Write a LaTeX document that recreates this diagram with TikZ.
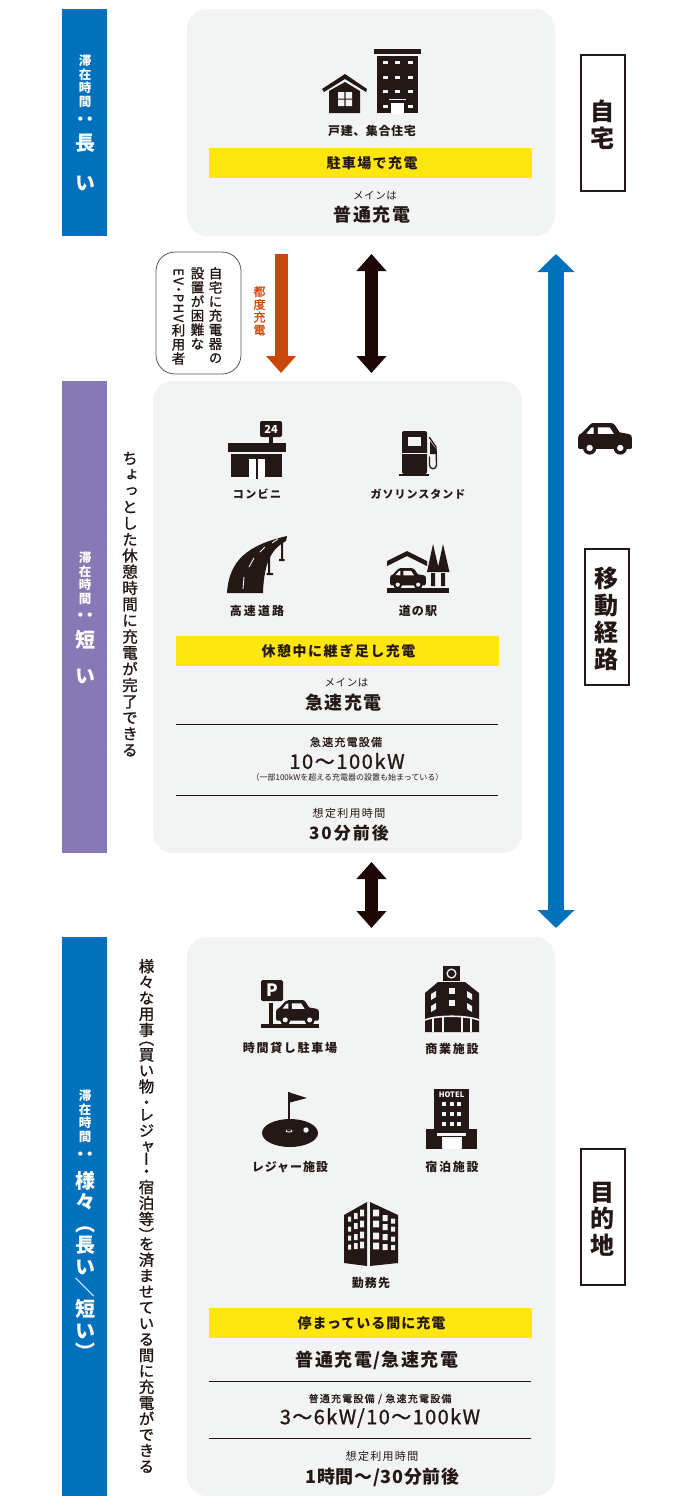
\documentclass[tikz,border=0pt]{standalone}
\usepackage{fontspec}
\usepackage{graphicx}
\usetikzlibrary{arrows.meta}
\newfontfamily\jp{Noto Sans CJK JP}
\newfontfamily\jpm[FakeBold=1.1]{Noto Sans CJK JP}
\newfontfamily\jpv[RawFeature={+vert}]{Noto Sans CJK JP}
\newfontfamily\jpvm[RawFeature={+vert},FakeBold=1.1]{Noto Sans CJK JP}
\definecolor{ink}{HTML}{231815}
\definecolor{barblue}{HTML}{0071BC}
\definecolor{barpurple}{HTML}{8779B6}
\definecolor{panelbg}{HTML}{F2F4F3}
\definecolor{ybar}{HTML}{FFE60F}
\definecolor{orng}{HTML}{C9470A}
\definecolor{darkarrow}{HTML}{1E0505}
\definecolor{rboxline}{HTML}{595757}
\makeatletter
\newcommand\Sh{}
\def\ShTok{\Sh}
% size, pitch, chars
\newcommand\vstk[3]{\vbox{\offinterlineskip\fontsize{#1}{#1}\selectfont
  \@tfor\vx:=#3\do{\ifx\vx\ShTok\vskip-3.5pt\else
    \vbox to #2pt{\vss\hbox to 1em{\vrule height .88em depth .12em width 0pt\hss\vx\hss}\vss}\fi}}}
\makeatother
\newcommand\Tb[3]{{\jp\bfseries\fontsize{#1}{#1}\selectfont\addfontfeatures{LetterSpace=#2}#3}}
\newcommand\Tr[3]{{\jp\fontsize{#1}{#1}\selectfont\addfontfeatures{LetterSpace=#2}#3}}
\newcommand\Tm[3]{{\jpm\fontsize{#1}{#1}\selectfont\addfontfeatures{LetterSpace=#2}#3}}
\newcommand\carshape[4]{% x,y,scale,bg
\begin{scope}[shift={(#1,#2)},x=#3pt,y=-#3pt]
 \fill[ink] (0,45) .. controls (0,36) and (5,32) .. (12,30) -- (36,5) .. controls (39,1) and (43,0) .. (48,0) -- (98,0) .. controls (104,0) and (108,2) .. (112,8) -- (125,28) -- (152,33) .. controls (158,34) and (162,38) .. (162,45) -- (162,72) .. controls (162,76) and (160,78) .. (156,78) -- (6,78) .. controls (2,78) and (0,76) .. (0,72) -- cycle;
 \fill[ink] (35,75) circle (20) (127,75) circle (20);
 \fill[#4] (35,75) circle (9.5) (127,75) circle (9.5);
 \fill[#4] (25,32) -- (40,14) -- (47,13) -- (47,33) -- cycle (60,13) -- (95,13) -- (108,33) -- (60,33) -- cycle;
\end{scope}}
\tikzset{
 txt/.style={inner sep=0pt,text=ink},
 wtxt/.style={inner sep=0pt,text=white,anchor=north},
 vtxt/.style={inner sep=0pt,text=ink,anchor=north},
 panel/.style={fill=panelbg,rounded corners=20pt,inner sep=0pt,draw=none},
 bar/.style={inner sep=0pt,draw=none,minimum width=45pt},
 ybox/.style={fill=ybar,inner sep=0pt,minimum width=323pt,minimum height=30pt,draw=none},
 rbox/.style={draw=ink,line width=2pt,fill=white,inner sep=0pt,minimum width=44pt,minimum height=136pt},
 sep/.style={draw=ink,line width=1pt},
 blk/.style={line width=13.5pt,draw=darkarrow,{Triangle[length=17pt,width=29pt,fill=darkarrow]}-{Triangle[length=17pt,width=29pt,fill=darkarrow]}},
}
\begin{document}
\begin{tikzpicture}[x=1pt,y=-1pt]
\useasboundingbox (0,0) rectangle (690,1505);
\fill[white] (0,0) rectangle (690,1505);
% bars
\node[bar,fill=barblue,minimum height=227pt] (bar1) at (84.5,122.5) {};
\node[bar,fill=barpurple,minimum height=472pt] (bar2) at (84.5,617) {};
\node[bar,fill=barblue,minimum height=559pt] (bar3) at (84.5,1216.5) {};
% panels
\node[panel,minimum width=368pt,minimum height=227pt] (p1) at (371,122.5) {};
\node[panel,minimum width=369pt,minimum height=472pt] (p2) at (337.5,617) {};
\node[panel,minimum width=368pt,minimum height=559pt] (p3) at (371,1216.5) {};
% yellow
\node[ybox] (y1) at (370.5,163) {};
\node[ybox] (y2) at (337.5,651) {};
\node[ybox] (y3) at (370.5,1323) {};
% right boxes
\node[rbox] (r1) at (602.5,122.5) {};
\node[rbox] (r2) at (606.5,617) {};
\node[rbox] (r3) at (602.5,1216.5) {};
\node[vtxt] (r1t) at (602.5,98) {\jpv\bfseries\vstk{24}{26.5}{自宅}};
\node[vtxt] (r2t) at (606.5,564.5) {\jpv\bfseries\vstk{24}{27}{移動経路}};
\node[vtxt] (r3t) at (602.5,1178.5) {\jpv\bfseries\vstk{24}{26.5}{目的地}};
% bar texts
\node[wtxt] (b1a) at (85,54) {\jpv\bfseries\vstk{12.5}{13.6}{滞在時間}};
\node[wtxt] (b1c) at (85,109) {\jpv\bfseries\vstk{20}{20}{：}};
\node[wtxt] (b1b) at (85,123) {\jpv\bfseries\vstk{20}{40}{長い}};
\node[wtxt] (b2a) at (85,551) {\jpv\bfseries\vstk{12.5}{13.6}{滞在時間}};
\node[wtxt] (b2c) at (85,605) {\jpv\bfseries\vstk{20}{20}{：}};
\node[wtxt] (b2b) at (85,622) {\jpv\bfseries\vstk{20}{36}{短い}};
\node[wtxt] (b3a) at (85,1089) {\jpv\bfseries\vstk{12.5}{13.6}{滞在時間}};
\node[wtxt] (b3c) at (85,1144) {\jpv\bfseries\vstk{20}{20}{：}};
\node[wtxt] (b3b) at (85,1170) {\jpv\bfseries\vstk{20}{21.4}{様々（長い{\rotatebox[origin=c]{-90}{／}}短い）}};
% side texts
\node[vtxt] (s2) at (130,450) {\jpvm\vstk{15.5}{16.2}{ちょっとした休憩時間に充電が完了できる}};
\node[vtxt] (s3) at (146.5,958) {\jpvm\vstk{15.5}{15.9}{様々な用事\Sh\Sh（買い物・\Sh レジャ\Sh ー\Sh ・宿泊等）\Sh\Sh を済ませている間に充電ができる}};
% rounded note
\node[draw=rboxline,line width=.8pt,fill=white,rounded corners=19pt,inner sep=0pt,minimum width=85pt,minimum height=122pt] (note) at (198.5,313) {};
\node[vtxt] (n1) at (215.5,266) {\jpvm\vstk{13.5}{14.1}{自宅に充電器の}};
\node[vtxt] (n2) at (197.5,266) {\jpvm\vstk{13.5}{14.1}{設置が困難な}};
\node[txt,rotate=-90,anchor=west] (n3a) at (178.5,268) {\Tm{13}{12}{EV\kern-2pt・\kern-2pt PHV}};
\node[vtxt] (n3b) at (178.5,323) {\jpvm\vstk{13.5}{14.1}{利用者}};
\node[inner sep=0pt,text=orng,anchor=north] (tsudo) at (259.5,285) {\jpvm\vstk{12}{12.8}{都度充電}};
% arrows
\coordinate (oT) at (281,254);
\coordinate (oB) at (281,373);
\draw[line width=13pt,draw=orng,-{Triangle[length=17pt,width=29pt,fill=orng]}] (oT) -- (oB);
\coordinate (k1T) at (371.5,254);
\coordinate (k1B) at (371.5,373);
\draw[blk] (k1T) -- (k1B);
\coordinate (k2T) at (371.5,862);
\coordinate (k2B) at (371.5,928);
\draw[blk] (k2T) -- (k2B);
\coordinate (bT) at (556,254);
\coordinate (bB) at (556,928);
\draw[line width=16pt,draw=barblue,{Triangle[length=18pt,width=36pt,fill=barblue]}-{Triangle[length=18pt,width=36pt,fill=barblue]}] (bT) -- (bB);
% panel 1 content
\fill[ink] (374,49) rectangle (421,54);
\fill[ink] (377,56) rectangle (418,113);
\foreach \yy in {62,77,91}{\foreach \xx in {385,397,410}{\fill[panelbg] (\xx-2.5,\yy-1.5) rectangle (\xx+2.5,\yy+1.5);}}
\foreach \xx in {385,410}{\fill[panelbg] (\xx-2.5,104.5) rectangle (\xx+2.5,107.5);}
\fill[panelbg] (389,98.7) rectangle (406,99.7);
\fill[white] (391,103) rectangle (404,114);
\fill[ink] (345,74) -- (367,89) -- (366,92) -- (345,79) -- (324,92) -- (322,89) -- cycle;
\fill[ink] (345,82) -- (360,91) -- (360,113) -- (329,113) -- (329,91) -- cycle;
\fill[panelbg] (338,92) rectangle (344.3,98.5) (345.7,92) rectangle (352,98.5) (338,99.7) rectangle (344.3,106) (345.7,99.7) rectangle (352,106);
\node[txt] (t1a) at (372,131) {\Tb{12}{5}{戸建、集合住宅}};
\node[txt] (t1b) at (372,163) {\Tb{14}{10}{駐車場で充電}};
\node[txt] (t1c) at (375,196) {\Tr{10.5}{5}{メインは}};
\node[txt] (t1d) at (372,215) {\Tb{18}{8}{普通充電}};
% panel 2 icons: convenience store
\fill[ink] (228,443) rectangle (286,452);
\fill[ink] (231,454) rectangle (282,477);
\fill[white] (249,459) rectangle (265,479);
\fill[ink] (256.4,459) rectangle (257.7,479);
\fill[ink,rounded corners=2pt] (260,421) rectangle (282,437);
\fill[ink] (269,437) rectangle (273,443);
\node[inner sep=0pt,text=white,font=\jp\bfseries\fontsize{11}{11}\selectfont] (n24) at (271,429) {24};
% gas pump
\fill[ink,rounded corners=2pt] (402,431) rectangle (427,474);
\fill[ink] (399,473.5) rectangle (429,476);
\fill[panelbg] (408,437) rectangle (421,446);
\fill[panelbg] (402,452.7) rectangle (427,453.4);
\draw[ink,line width=1.3pt,line cap=round] (429.5,437.5) -- (436,447) -- (436.5,465) .. controls (436.5,470) and (429.5,470) .. (429.5,465) -- (429.5,457);
\fill[ink] (430,441) -- (436,449) -- (436,454) -- (430,454) -- cycle;
% highway
\fill[ink] (227,593) .. controls (229,560) and (248,545) .. (287,536) -- (286,541) .. controls (273,548) and (264,560) .. (263,593) -- cycle;
\foreach \ax/\ay/\bx/\by in {243/589/244/577,249/567/254/558,260/552/265/547,272/543/278/539}
  {\draw[panelbg,line width=.9pt] (\ax,\ay) -- (\bx,\by);}
\fill[ink] (281,543) rectangle (283,559) (279,559) rectangle (284.5,561);
\fill[ink] (268,557) rectangle (270,573) (266.5,573) rectangle (273,575);
% michi no eki
\fill[ink] (387,588) rectangle (449,593);
\fill[ink] (407,551) -- (427,561) -- (427,566) -- (407,556) -- (387,566) -- (387,561) -- cycle;
\fill[ink] (433,544) -- (439.5,572) -- (427,572) -- cycle (443,544) -- (449.5,572) -- (437,572) -- cycle;
\fill[ink] (431,573) rectangle (435,586) (441,573) rectangle (445,586);
\carshape{390}{568}{0.222}{panelbg}
\node[txt] (t2a) at (257,494) {\Tb{11}{13}{コンビニ}};
\node[txt] (t2b) at (418,494) {\Tb{11}{9}{ガソリンスタンド}};
\node[txt] (t2c) at (257,611) {\Tb{12}{17}{高速道路}};
\node[txt] (t2d) at (418,611) {\Tb{12}{10}{道の駅}};
\node[txt] (t2e) at (338.5,651) {\Tb{14}{11}{休憩中に継ぎ足し充電}};
\node[txt] (t2f) at (346.5,683) {\Tr{10.5}{5}{メインは}};
\node[txt] (t2g) at (343.5,703) {\Tb{18}{8}{急速充電}};
\coordinate (l1a) at (176,724); \coordinate (l1b) at (498,724);
\draw[sep] (l1a) -- (l1b);
\node[txt] (t2h) at (346,742) {\Tm{11}{11}{急速充電設備}};
\node[txt] (t2i) at (347,761) {\Tm{20}{8}{10〜100kW}};
\node[txt] (t2j) at (347.5,777) {\Tr{8}{0}{（一部100kWを超える充電器の設置も始まっている）}};
\coordinate (l2a) at (176,795); \coordinate (l2b) at (498,795);
\draw[sep] (l2a) -- (l2b);
\node[txt] (t2k) at (349,813) {\Tr{11}{12}{想定利用時間}};
\node[txt] (t2l) at (349,833) {\Tb{17}{12}{30分前後}};
% panel 3 icons: parking
\fill[ink,rounded corners=1.5pt] (261,980) rectangle (283,1001);
\node[inner sep=0pt,text=white,font=\jp\bfseries\fontsize{17}{17}\selectfont] (pP) at (272,990) {P};
\fill[ink] (269,1003) rectangle (273,1025);
\fill[ink] (261,1024) rectangle (319,1028);
\carshape{276}{1000}{0.265}{panelbg}
% commercial
\fill[ink] (443,966) rectangle (460,981);
\draw[panelbg,line width=1.3pt] (451.5,973.5) circle (4.4);
\fill[ink] (438,982) -- (465,982) -- (479,993) -- (479,1032) -- (425,1032) -- (425,993) -- cycle;
\foreach \yy in {991,1003}{\fill[panelbg] (449,\yy-3) rectangle (455,\yy+3);}
\foreach \yy in {995,1007}{\fill[panelbg] (431,\yy-1) -- (436,\yy-4) -- (436,\yy+2) -- (431,\yy+5) -- cycle; \fill[panelbg] (467,\yy-4) -- (472,\yy-1) -- (472,\yy+5) -- (467,\yy+2) -- cycle;}
\draw[panelbg,line width=1.6pt] (425,1020) .. controls (437,1015) and (466,1015) .. (479,1020);
\foreach \xx in {433,442.5,462,471}{\fill[panelbg] (\xx-1,1017) rectangle (\xx+1,1032);}
% golf
\fill[ink] (290,1133) ellipse (28 and 14);
\fill[ink] (288,1092) rectangle (290,1120);
\fill[ink] (288,1092) -- (307,1098) -- (288,1103) -- cycle;
\fill[panelbg] (289,1131) ellipse (3.5 and 1.5);
\fill[ink] (289,1130.5) ellipse (2 and 1);
\fill[panelbg] (306,1130) circle (2.7);
% hotel
\fill[ink] (434,1089) rectangle (469,1130);
\fill[ink] (426,1129) rectangle (477,1149);
\node[inner sep=0pt,text=white,font=\jp\bfseries\fontsize{7.5}{7.5}\selectfont] (hotel) at (451.5,1095) {HOTEL};
\foreach \yy in {1104,1114,1124}{\foreach \xx in {444,452,459}{\fill[panelbg] (\xx-2.3,\yy-2.3) rectangle (\xx+2.3,\yy+2.3);}}
\fill[panelbg] (437,1133) rectangle (466,1135.5);
\fill[panelbg] (442,1137) rectangle (462,1149);
\fill[white] (444,1139) rectangle (460,1149);
% office
\fill[ink] (344,1215) -- (367,1202) -- (367,1266) -- (344,1263) -- cycle;
\fill[ink] (370,1202) -- (398,1215) -- (398,1263) -- (370,1266) -- cycle;
\foreach \yl/\ym/\yr in {1219/1216/1213,1229/1226/1224,1238/1237/1235,1247/1246/1245}{
 \fill[panelbg] (348,\yl-2.5) rectangle (351,\yl+2.5) (354,\ym-3) rectangle (357.5,\ym+3) (360,\yr-3.3) rectangle (364,\yr+3.3);}
\foreach \yl/\ym/\yr in {1213/1218/1221,1224/1227/1229,1236/1237/1239,1246/1247/1247.5}{
 \fill[panelbg] (373,\yl-3.3) rectangle (379,\yl+3.3) (382.5,\ym-3) rectangle (387.5,\ym+3) (391,\yr-2.5) rectangle (395,\yr+2.5);}
\node[txt] (t3a) at (290,1048) {\Tb{12}{14}{時間貸し駐車場}};
\node[txt] (t3b) at (452,1049) {\Tb{12}{14}{商業施設}};
\node[txt] (t3c) at (290,1167) {\Tb{12}{8}{レジャー施設}};
\node[txt] (t3d) at (452,1167) {\Tb{12}{14}{宿泊施設}};
\node[txt] (t3e) at (371,1283) {\Tb{12}{10}{勤務先}};
\node[txt] (t3f) at (371.5,1323) {\Tb{14}{7}{停まっている間に充電}};
\node[txt] (t3g) at (377,1360) {\Tb{18}{8}{普通充電/急速充電}};
\coordinate (l3a) at (209,1381); \coordinate (l3b) at (531,1381);
\draw[sep] (l3a) -- (l3b);
\node[txt] (t3h) at (380,1399) {\Tm{10}{12}{普通充電設備 / 急速充電設備}};
\node[txt] (t3i) at (380,1418) {\Tm{20}{7}{3〜6kW/10〜100kW}};
\coordinate (l4a) at (209,1438); \coordinate (l4b) at (531,1438);
\draw[sep] (l4a) -- (l4b);
\node[txt] (t3j) at (382,1456) {\Tr{11}{12}{想定利用時間}};
\node[txt] (t3k) at (382.5,1477) {\Tb{18}{4}{1時間〜/30分前後}};
% side car
\carshape{578}{423}{0.333}{white}
\end{tikzpicture}
\end{document}
